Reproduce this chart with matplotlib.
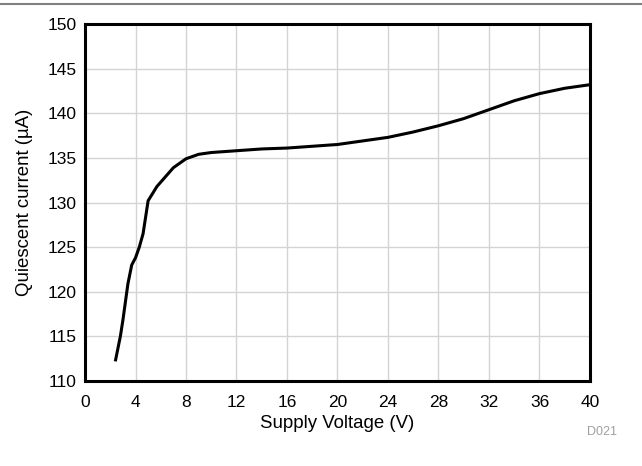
import matplotlib
matplotlib.use('Agg')
import matplotlib.pyplot as plt
from matplotlib.lines import Line2D

plt.rcParams["font.family"] = ["Liberation Sans", "DejaVu Sans"]

# 读取图中曲线的数值
supply_voltage = [2.4, 2.8, 3.0, 3.4, 3.7, 4.0, 4.3, 4.6, 5.0, 5.7, 7.0, 8.0,
                  9.0, 10, 12, 14, 16, 18, 20, 22, 24, 26, 28, 30, 32, 34,
                  36, 38, 40]
quiescent_current = [112.2, 115.0, 116.8, 120.9, 123.0, 123.8, 125.0, 126.5,
                     130.2, 131.8, 133.9, 134.9, 135.4, 135.6, 135.8, 136.0,
                     136.1, 136.3, 136.5, 136.9, 137.3, 137.9, 138.6, 139.4,
                     140.4, 141.4, 142.2, 142.8, 143.2]

x_ticks = list(range(0, 41, 4))
y_ticks = list(range(110, 151, 5))

fig = plt.figure(figsize=(6.42, 4.66), dpi=100)
ax = fig.add_axes([0.1324, 0.1824, 0.7866, 0.7661])

ax.plot(supply_voltage, quiescent_current, color='black', linewidth=2.2,
        solid_joinstyle='round', solid_capstyle='butt', zorder=3)

ax.set_xlim(0, 40)
ax.set_ylim(110, 150)
ax.set_xticks(x_ticks)
ax.set_yticks(y_ticks)
ax.grid(True, color='#d4d4d4', linewidth=1.0)
ax.set_axisbelow(True)
ax.tick_params(length=0, labelsize=12.5, colors='black')
ax.tick_params(axis='x', pad=10)
ax.tick_params(axis='y', pad=6)

for spine in ax.spines.values():
    spine.set_linewidth(2.2)
    spine.set_color('black')

ax.set_xlabel("Supply Voltage (V)", fontsize=13.4)
ax.set_ylabel("Quiescent current (\u00b5A)", fontsize=13.4)
ax.xaxis.set_label_coords(0.5, -0.095)
ax.yaxis.set_label_coords(-0.103, 0.5)

# 顶部的灰色分隔线和图号
fig.add_artist(Line2D([0, 1], [0.991, 0.991], transform=fig.transFigure,
                      color='#808080', linewidth=1.5))
fig.text(0.961, 0.072, "D021", fontsize=9, color='#a0a0a0',
         ha='right', va='center')

fig.savefig("out.png", dpi=100)
plt.close('all')
